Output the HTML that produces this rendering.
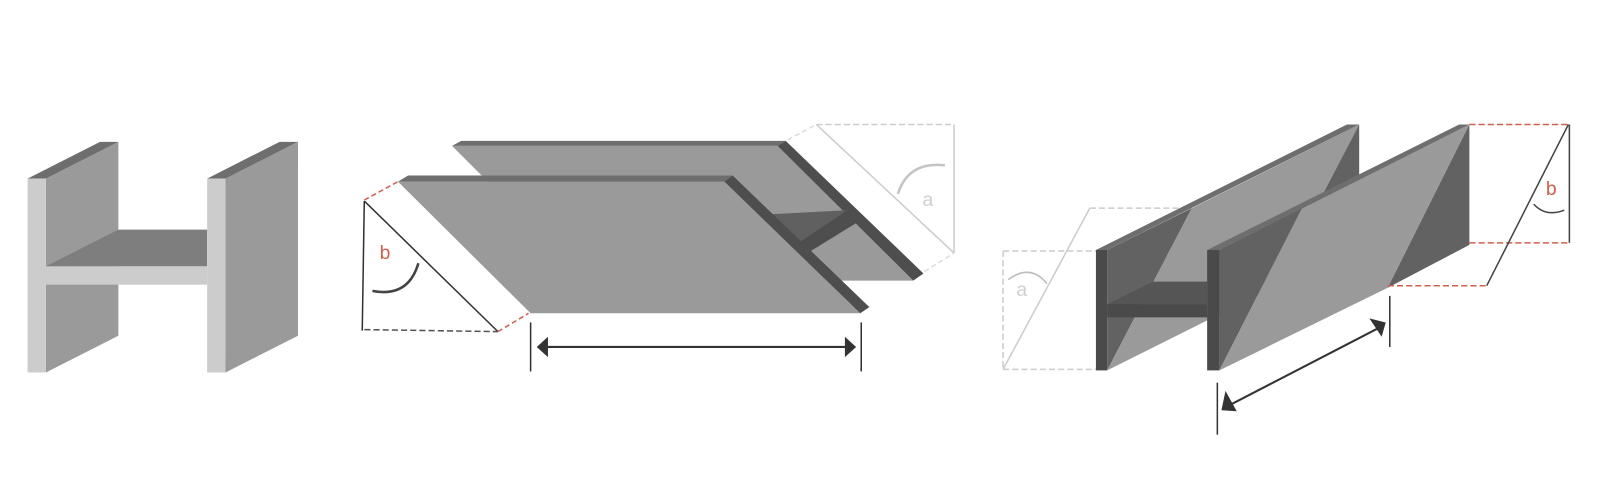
<!DOCTYPE html>
<html><head><meta charset="utf-8"><style>html,body{margin:0;padding:0;background:#fff}svg{display:block}</style></head>
<body>
<svg width="1600" height="500" viewBox="0 0 1568 490" xmlns="http://www.w3.org/2000/svg" font-family="Liberation Sans, sans-serif">
<!-- Left H -->
<polygon points="45,175 116,139 116,329 45,365" fill="#9a9a9a"/>
<polygon points="27,175 98,139 116,139 45,175" fill="#6e6e6e"/>
<rect x="27" y="175" width="18" height="190" fill="#cccccc"/>
<polygon points="45,261 116,225 203,225 203,261" fill="#7e7e7e"/>
<rect x="45" y="261" width="158" height="18" fill="#cccccc"/>
<polygon points="221,175 292,139 292,329 221,365" fill="#9a9a9a"/>
<polygon points="203,175 274,139 292,139 221,175" fill="#6e6e6e"/>
<rect x="203" y="175" width="18" height="190" fill="#cccccc"/>

<!-- Middle -->
<polygon points="443,143 762,143 895,275 575,275" fill="#9a9a9a"/>
<polygon points="443,143 452,138 770,138 762,143" fill="#6e6e6e"/>
<polygon points="762,143 770,138 905,268 895,275" fill="#4e4e4e"/>
<polygon points="755,210 830,206 782,238" fill="#606060"/>
<polygon points="782,238 830,206 840,218 793,247" fill="#4e4e4e"/>
<polygon points="390,178 710,178 843,307 520,307" fill="#9a9a9a"/>
<polygon points="390,178 400,172 718,172 710,178" fill="#6e6e6e"/>
<polygon points="710,178 718,172 852,301 843,307" fill="#4e4e4e"/>
<!-- b triangle -->
<line x1="357" y1="197" x2="355" y2="324" stroke="#333" stroke-width="1.5"/>
<line x1="357" y1="197" x2="488" y2="325" stroke="#333" stroke-width="1.5"/>
<line x1="357" y1="323" x2="488" y2="325" stroke="#555" stroke-width="1.5" stroke-dasharray="6,3"/>
<line x1="357" y1="196" x2="390" y2="178" stroke="#d0604f" stroke-width="1.5" stroke-dasharray="5,3"/>
<line x1="488" y1="325" x2="518" y2="307" stroke="#d0604f" stroke-width="1.5" stroke-dasharray="5,3"/>
<path d="M365,285 Q400,292 410,258" fill="none" stroke="#444" stroke-width="2.5"/>
<text x="372" y="254" font-size="19" fill="#d0604f">b</text>
<!-- a triangle -->
<line x1="800" y1="122" x2="935" y2="122" stroke="#ccc" stroke-width="1.5" stroke-dasharray="6,3"/>
<line x1="935" y1="122" x2="935" y2="248" stroke="#ccc" stroke-width="1.5"/>
<line x1="800" y1="122" x2="935" y2="248" stroke="#ccc" stroke-width="1.5"/>
<line x1="772" y1="137" x2="800" y2="122" stroke="#ddd" stroke-width="1.5" stroke-dasharray="5,3"/>
<line x1="906" y1="266" x2="935" y2="248" stroke="#ddd" stroke-width="1.5" stroke-dasharray="5,3"/>
<path d="M880,190 Q890,158 926,162" fill="none" stroke="#c4c4c4" stroke-width="2.5"/>
<text x="904" y="202" font-size="19" fill="#cfcfcf">a</text>
<!-- arrow -->
<line x1="520" y1="316" x2="520" y2="364" stroke="#333" stroke-width="1.5"/>
<line x1="844" y1="316" x2="844" y2="364" stroke="#333" stroke-width="1.5"/>
<line x1="530" y1="340" x2="834" y2="340" stroke="#333" stroke-width="2"/>
<polygon points="526,340 537,330 537,350" fill="#333"/>
<polygon points="839,340 828,330 828,350" fill="#333"/>

<!-- Right figure -->
<line x1="1068" y1="204" x2="1168" y2="204" stroke="#ccc" stroke-width="1.5" stroke-dasharray="6,3"/>
<line x1="1068" y1="204" x2="983" y2="362" stroke="#ccc" stroke-width="1.5"/>
<line x1="983" y1="362" x2="1074" y2="362" stroke="#ccc" stroke-width="1.5" stroke-dasharray="6,3"/>
<line x1="983" y1="246" x2="1074" y2="246" stroke="#ccc" stroke-width="1.5" stroke-dasharray="6,3"/>
<line x1="983" y1="246" x2="983" y2="362" stroke="#ccc" stroke-width="1.5" stroke-dasharray="6,3"/>
<path d="M988,274 Q1010,258 1026,278" fill="none" stroke="#bbb" stroke-width="1.5"/>
<text x="996" y="290" font-size="19" fill="#cfcfcf">a</text>
<!-- back flange -->
<polygon points="1085,245 1168,204 1085,363" fill="#626262"/>
<polygon points="1168,204 1332,122 1249,281 1085,363" fill="#9a9a9a"/>
<polygon points="1332,122 1332,240 1249,281" fill="#626262"/>
<polygon points="1074,245 1320,122 1332,122 1085,245" fill="#6e6e6e"/>
<rect x="1074" y="245" width="11" height="118" fill="#4a4a4a"/>
<!-- web -->
<polygon points="1085,298 1130,276 1183,276 1183,298" fill="#555"/>
<rect x="1085" y="298" width="98" height="13" fill="#4a4a4a"/>
<!-- front flange -->
<polygon points="1195,245 1276,204 1195,363" fill="#626262"/>
<polygon points="1276,204 1440,122 1360,282 1195,363" fill="#9a9a9a"/>
<polygon points="1440,122 1440,240 1360,282" fill="#626262"/>
<polygon points="1183,245 1430,122 1440,122 1195,245" fill="#6e6e6e"/>
<rect x="1183" y="245" width="12" height="118" fill="#4a4a4a"/>
<!-- red dashed b -->
<line x1="1440" y1="122" x2="1537" y2="122" stroke="#d0604f" stroke-width="1.5" stroke-dasharray="6,3"/>
<line x1="1440" y1="238" x2="1537" y2="238" stroke="#d0604f" stroke-width="1.5" stroke-dasharray="6,3"/>
<line x1="1360" y1="280" x2="1457" y2="280" stroke="#d0604f" stroke-width="1.5" stroke-dasharray="6,3"/>
<line x1="1457" y1="280" x2="1537" y2="122" stroke="#444" stroke-width="1.5"/>
<line x1="1538" y1="122" x2="1538" y2="238" stroke="#444" stroke-width="1.5"/>
<path d="M1503,200 Q1515,213 1533,206" fill="none" stroke="#444" stroke-width="1.5"/>
<text x="1515" y="191" font-size="19" fill="#d0604f">b</text>
<!-- arrow -->
<line x1="1193" y1="375" x2="1193" y2="426" stroke="#333" stroke-width="1.5"/>
<line x1="1362" y1="290" x2="1362" y2="340" stroke="#333" stroke-width="1.5"/>
<line x1="1207" y1="396" x2="1350" y2="322" stroke="#333" stroke-width="2"/>
<polygon points="1197,402 1201,383 1212,403" fill="#333"/>
<polygon points="1358,316 1342,312 1354,330" fill="#333"/>
</svg>
</body></html>
